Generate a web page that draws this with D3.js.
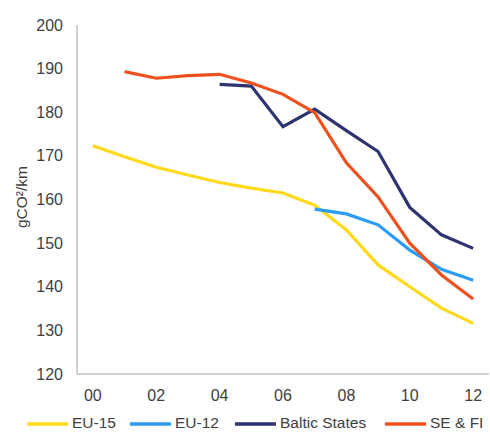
<!DOCTYPE html>
<html><head><meta charset="utf-8">
<script src="https://cdn.jsdelivr.net/npm/d3@7"></script>
<style>body{margin:0;background:#fff}svg{display:block}text{font-family:"Liberation Sans",Arial,sans-serif}</style>
</head><body><svg id="c" width="490" height="432"></svg>
<script>
const years = [0,1,2,3,4,5,6,7,8,9,10,11,12];
const tickYears = [0,2,4,6,8,10,12];
const yTicks = [120,130,140,150,160,170,180,190,200];
const seriesNames = ["EU-15","EU-12","Baltic States","SE & FI"];
const eu15 = [172.3,169.8,167.4,165.6,163.9,162.6,161.5,158.7,153.0,145.0,140.0,135.1,131.6];
const eu12 = [null,null,null,null,null,null,null,157.8,156.7,154.2,148.4,144.0,141.5];
const baltic = [null,null,null,null,186.4,186.0,176.7,180.7,175.8,171.0,158.2,151.9,148.8];
const sefi = [null,189.3,187.8,188.4,188.7,186.7,184.1,179.9,168.4,160.6,150.0,142.7,137.2];
const colors = ["#FFD91A","#2D9CF2","#2E3470","#F04F1E"];

const svg = d3.select("#c");
const x = d3.scaleLinear().domain([-0.5,12.5]).range([77,489]);
const y = d3.scaleLinear().domain([120,200]).range([374,25]);

svg.append("line").attr("x1",77).attr("x2",77).attr("y1",y(200)).attr("y2",y(120)).attr("stroke","#bfbfbf").attr("stroke-width",1.5);
svg.append("line").attr("x1",77).attr("x2",489).attr("y1",y(120)).attr("y2",y(120)).attr("stroke","#bfbfbf").attr("stroke-width",1.5);

svg.selectAll(".yt").data(yTicks).enter().append("text")
  .attr("x",63).attr("y",d=>y(d)).attr("dy","0.35em").attr("text-anchor","end")
  .attr("font-size",16).attr("fill","#404040").text(d=>d);
svg.selectAll(".xt").data(tickYears).enter().append("text")
  .attr("x",d=>x(d)).attr("y",395).attr("dy","0.35em").attr("text-anchor","middle")
  .attr("font-size",16).attr("fill","#404040").text(d=>String(d).padStart(2,"0"));

svg.append("text").attr("transform","translate(22,197) rotate(-90)").attr("text-anchor","middle")
  .attr("dy","0.35em").attr("font-size",15.5).attr("fill","#404040").text("gCO²/km");

const all = [eu15,eu12,baltic,sefi];
const line = d3.line().defined(d=>d.v!=null).x(d=>x(d.yr)).y(d=>y(d.v));
all.forEach((s,i)=>{
  svg.append("path").datum(years.map((yr,j)=>({yr,v:s[j]})))
    .attr("d",line).attr("fill","none").attr("stroke",colors[i]).attr("stroke-width",3.2)
    .attr("stroke-linejoin","miter");
});

const legX = [27,130,235,385];
const legY = 423;
seriesNames.forEach((n,i)=>{
  svg.append("line").attr("x1",legX[i]).attr("x2",legX[i]+41).attr("y1",legY+1).attr("y2",legY+1)
    .attr("stroke",colors[i]).attr("stroke-width",3.5);
  svg.append("text").attr("x",legX[i]+45).attr("y",legY).attr("dy","0.35em")
    .attr("font-size",15.5).attr("fill","#404040").text(n);
});
</script></body></html>
